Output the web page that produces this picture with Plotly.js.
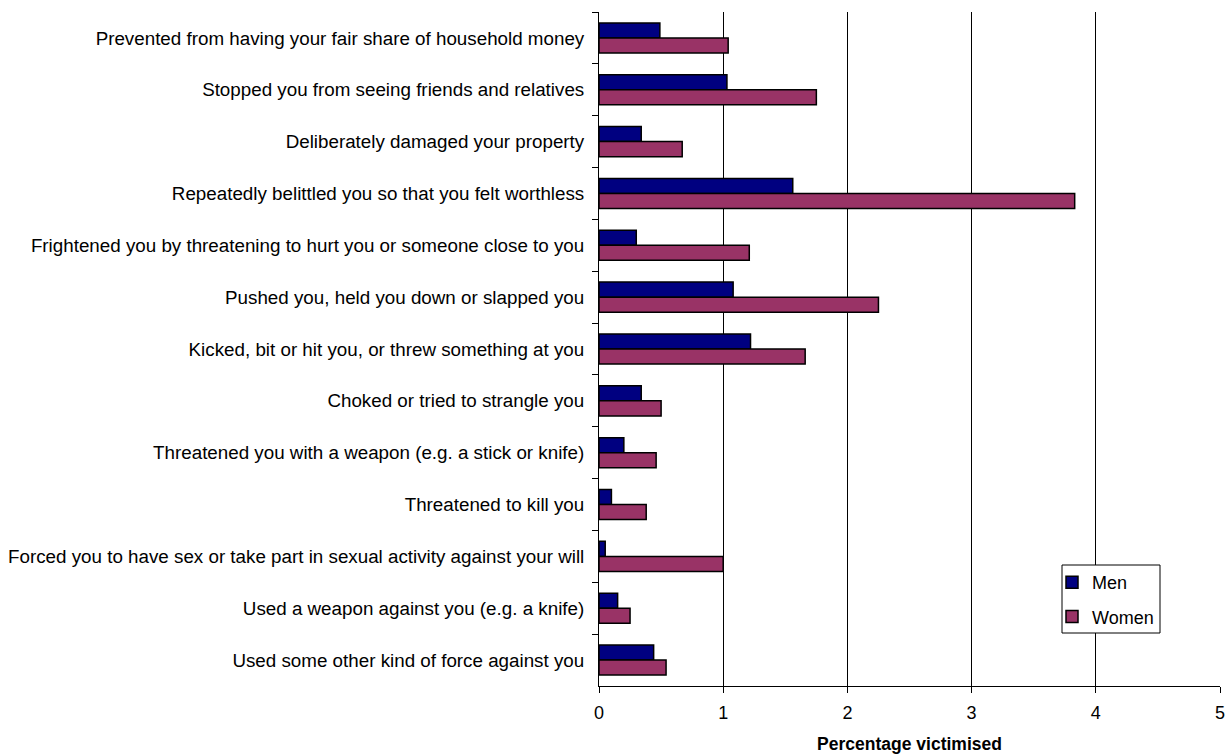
<!DOCTYPE html>
<html>
<head>
<meta charset="utf-8">
<script src="https://cdn.plot.ly/plotly-3.0.1.min.js"></script>
<style>html,body{margin:0;padding:0;background:#fff;}#chart{width:1232px;height:756px;}</style>
</head>
<body>
<div id="chart"></div>
<script>
const categories = [
  "Prevented from having your fair share of household money",
  "Stopped you from seeing friends and relatives",
  "Deliberately damaged your property",
  "Repeatedly belittled you so that you felt worthless",
  "Frightened you by threatening to hurt you or someone close to you",
  "Pushed you, held you down or slapped you",
  "Kicked, bit or hit you, or threw something at you",
  "Choked or tried to strangle you",
  "Threatened you with a weapon (e.g. a stick or knife)",
  "Threatened to kill you",
  "Forced you to have sex or take part in sexual activity against your will",
  "Used a weapon against you (e.g. a knife)",
  "Used some other kind of force against you"
];
const men   = [0.49, 1.03, 0.34, 1.56, 0.30, 1.08, 1.22, 0.34, 0.20, 0.10, 0.05, 0.15, 0.44];
const women = [1.04, 1.75, 0.67, 3.83, 1.21, 2.25, 1.66, 0.50, 0.46, 0.38, 1.00, 0.25, 0.54];
const xTicks = [0, 1, 2, 3, 4, 5];

const font = "Liberation Sans, Arial, sans-serif";
const data = [
  {type:"bar", orientation:"h", name:"Men", y:categories, x:men, legendgroup:"a",
   marker:{color:"#000080", line:{color:"#000000", width:1.5}}},
  {type:"bar", orientation:"h", name:"Women", y:categories, x:women, legendgroup:"b",
   marker:{color:"#993366", line:{color:"#000000", width:1.5}}}
];
const layout = {
  width:1232, height:756,
  margin:{l:599, r:12, t:12, b:70},
  paper_bgcolor:"#ffffff", plot_bgcolor:"#ffffff",
  font:{family:font, size:18.8, color:"#000000"},
  barmode:"group", bargap:0.42, bargroupgap:0,
  showlegend:true,
  legend:{x:(1052-599)/621, y:(686-564)/674, xanchor:"left", yanchor:"top",
          bgcolor:"rgba(0,0,0,0)", borderwidth:0,
          font:{family:font, size:18, color:"#000000"},
          traceorder:"grouped", tracegroupgap:8, itemwidth:30},
  shapes:[{type:"rect", xref:"paper", yref:"paper", layer:"above",
           x0:(1062-599)/621, x1:(1160-599)/621, y0:(686-633)/674, y1:(686-565)/674,
           line:{color:"#000000", width:1}, fillcolor:"#ffffff"}],
  xaxis:{range:[0,5], tickvals:xTicks, ticktext:xTicks.map(String),
         showgrid:true, gridcolor:"#000000", gridwidth:1,
         zeroline:false, showline:true, linecolor:"#000000", linewidth:1,
         ticks:"outside", ticklen:6, tickcolor:"#000000", ticklabelstandoff:4,
         tickfont:{size:18},
         title:{text:"<b>Percentage victimised</b>", font:{family:font, size:17.5}, standoff:16},
         fixedrange:true},
  yaxis:{autorange:"reversed", type:"category",
         showline:true, linecolor:"#000000", linewidth:1,
         ticks:"outside", ticklen:6, tickcolor:"#000000", tickson:"boundaries",
         showgrid:false, zeroline:false, ticklabelstandoff:10,
         fixedrange:true}
};
Plotly.newPlot("chart", data, layout, {displayModeBar:false, staticPlot:true});
</script>
</body>
</html>
